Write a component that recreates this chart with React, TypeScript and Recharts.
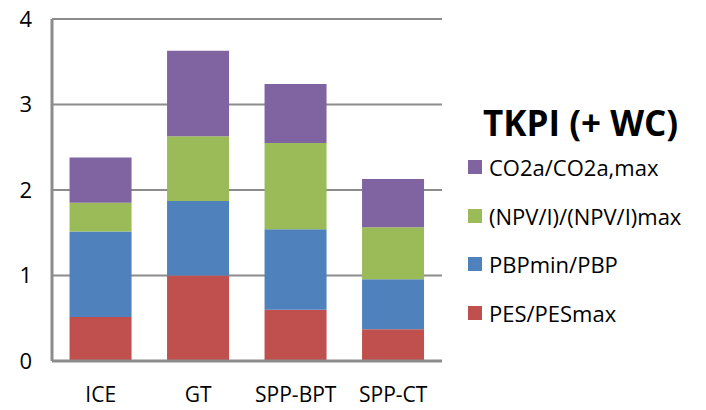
import { Bar, BarChart, CartesianGrid, XAxis, YAxis } from 'recharts';

const categories = ['ICE', 'GT', 'SPP-BPT', 'SPP-CT'];
const pes = [0.515, 1.0, 0.6, 0.37];
const pbp = [1.0, 0.87, 0.94, 0.587];
const npv = [0.336, 0.76, 1.01, 0.608];
const co2 = [0.53, 1.0, 0.69, 0.565];
const yTicks = [0, 1, 2, 3, 4];

const series = [
  { key: 'pes', name: 'PES/PESmax', color: '#C0504D' },
  { key: 'pbp', name: 'PBPmin/PBP', color: '#4F81BD' },
  { key: 'npv', name: '(NPV/I)/(NPV/I)max', color: '#9BBB59' },
  { key: 'co2', name: 'CO2a/CO2a,max', color: '#8064A2' },
];

const data = categories.map((c, i) => ({
  name: c,
  pes: pes[i],
  pbp: pbp[i],
  npv: npv[i],
  co2: co2[i],
}));

const font = '"Open Sans", "Liberation Sans", sans-serif';

function LegendBox() {
  const items = [...series].reverse();
  return (
    <div style={{ position: 'absolute', left: 468, top: 102, fontFamily: font, color: '#000' }}>
      <div style={{ fontSize: 35, fontWeight: 700, marginLeft: 15, lineHeight: '41px' }}>
        TKPI (+ WC)
      </div>
      {items.map((s) => (
        <div key={s.key} style={{ display: 'flex', alignItems: 'center', height: 48.5, whiteSpace: 'nowrap' }}>
          <span style={{ width: 14, height: 14, background: s.color, display: 'inline-block', marginRight: 7 }} />
          <span style={{ fontSize: 22 }}>{s.name}</span>
        </div>
      ))}
    </div>
  );
}

export default function App() {
  return (
    <div style={{ position: 'absolute', left: 0, top: 0, width: 706, height: 410, background: '#fff' }}>
      <BarChart
        width={706}
        height={410}
        data={data}
        margin={{ top: 19, right: 264, left: 0, bottom: 0 }}
        barCategoryGap="18%"
      >
        <CartesianGrid vertical={false} stroke="#8c8c8c" strokeWidth={2} />
        <XAxis
          dataKey="name"
          height={49}
          tickLine={false}
          interval={0}
          axisLine={{ stroke: '#8c8c8c', strokeWidth: 3 }}
          tick={{ fontSize: 21, fill: '#000', fontFamily: font }}
          tickMargin={20}
        />
        <YAxis
          domain={[0, 4]}
          ticks={yTicks}
          width={52}
          tickLine={false}
          axisLine={{ stroke: '#8c8c8c', strokeWidth: 3 }}
          tick={{ fontSize: 22, fill: '#000', fontFamily: font }}
          tickMargin={14}
        />
        <YAxis
          yAxisId="right"
          orientation="right"
          width={0}
          domain={[0, 4]}
          tick={false}
          tickLine={false}
          axisLine={{ stroke: '#8c8c8c', strokeWidth: 3 }}
        />
        {series.map((s) => (
          <Bar key={s.key} dataKey={s.key} name={s.name} stackId="a" fill={s.color} isAnimationActive={false} />
        ))}
      </BarChart>
      <LegendBox />
    </div>
  );
}
